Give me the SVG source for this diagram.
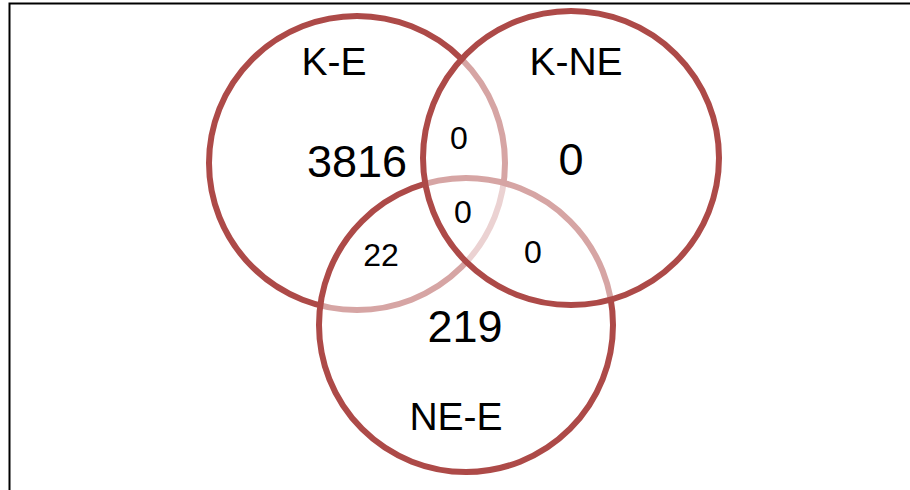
<svg xmlns="http://www.w3.org/2000/svg" width="910" height="490" viewBox="0 0 910 490">
<style>
.c{fill:#ffffff;fill-opacity:0.5;stroke:#ad4a48;stroke-width:6}
text{font-family:"Liberation Sans",Arial,sans-serif;fill:#000;text-anchor:middle}
.l{font-size:39px}.b{font-size:45px}.s{font-size:32px}
</style>
<rect x="9.5" y="3.5" width="910" height="500" fill="#fff" stroke="#000" stroke-width="2"/>
<g id="KE"><ellipse class="c" cx="357" cy="163" rx="148" ry="147"/></g>
<g id="NEE"><ellipse class="c" cx="466" cy="325" rx="147" ry="147"/></g>
<g id="KNE"><ellipse class="c" cx="571" cy="158" rx="148" ry="147"/></g>
<g id="connectors"></g>
<g id="labels">
<text class="l" x="334" y="75">K-E</text>
<text class="l" x="576" y="75">K-NE</text>
<text class="l" x="456" y="430">NE-E</text>
<text class="b" x="357" y="177">3816</text>
<text class="b" x="571" y="175">0</text>
<text class="b" x="465" y="342">219</text>
<text class="s" x="459" y="149">0</text>
<text class="s" x="463" y="223">0</text>
<text class="s" x="381" y="266">22</text>
<text class="s" x="533" y="263">0</text>
</g>
</svg>
